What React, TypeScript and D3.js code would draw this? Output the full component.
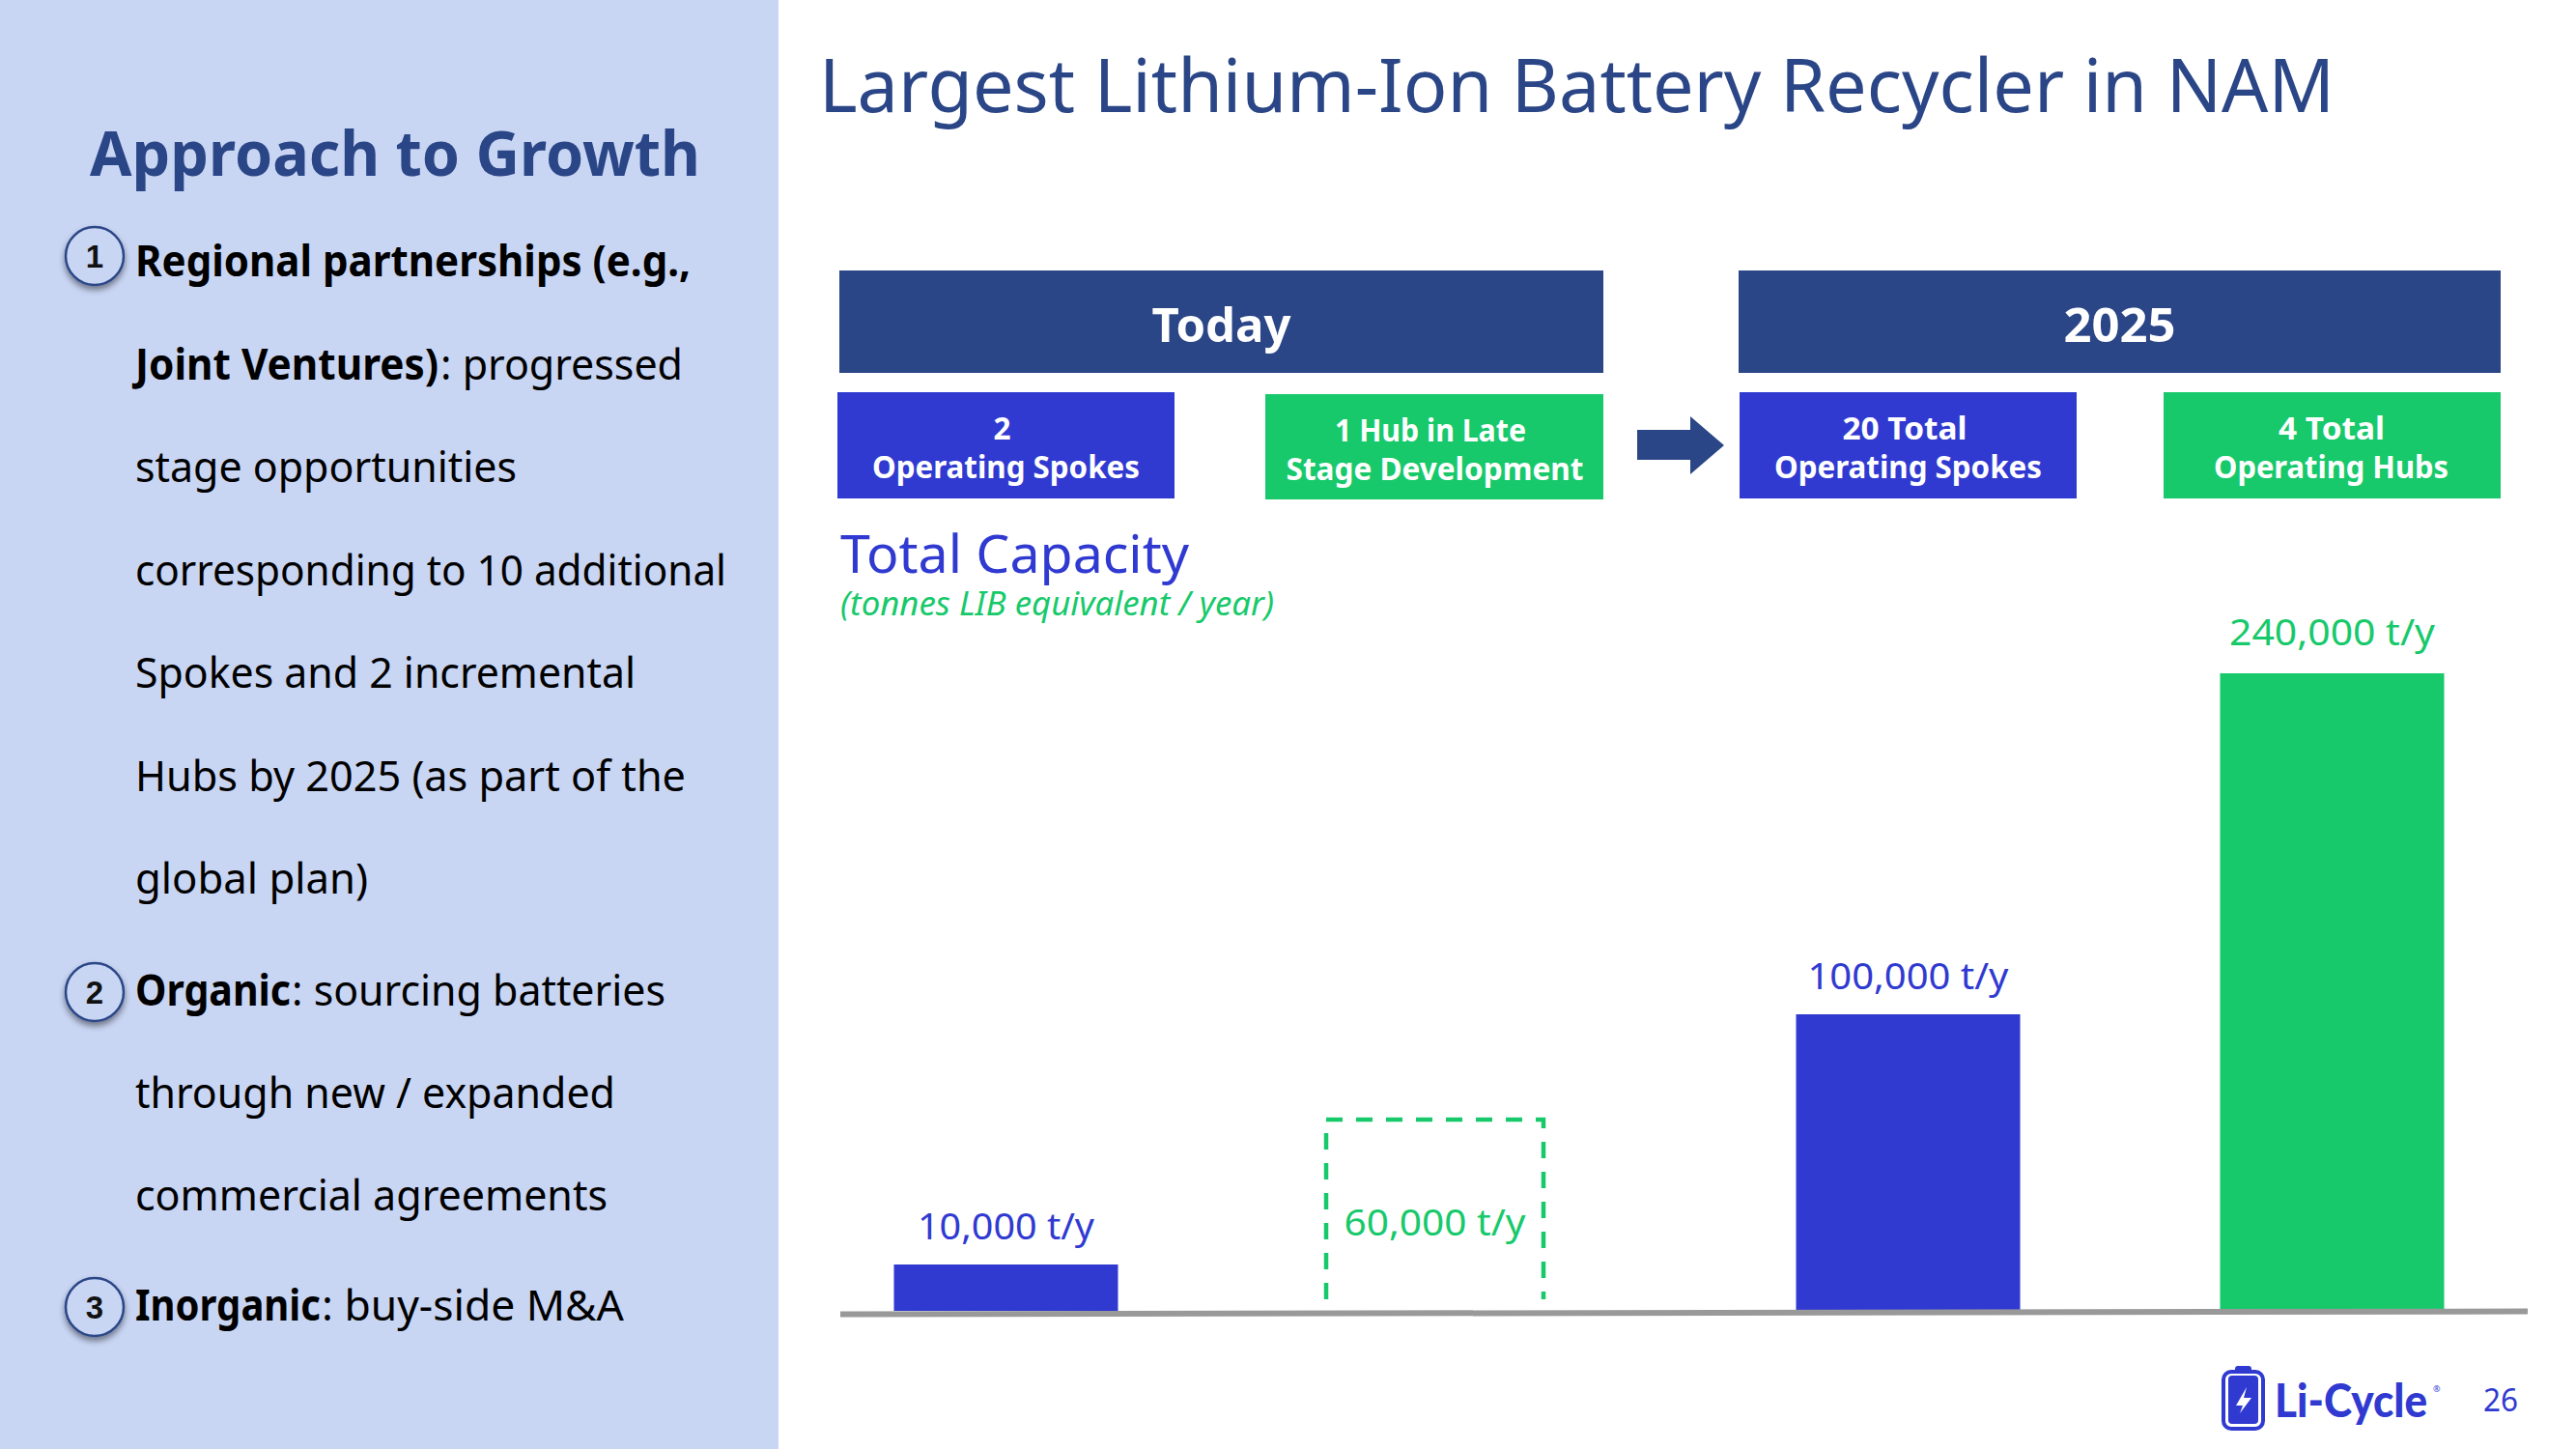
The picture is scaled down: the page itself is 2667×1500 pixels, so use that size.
import React from "react";
import * as d3 from "d3";

const W = 2667, H = 1500;
const NAVY = "#2B4687", BLUE = "#303AD1", GREEN = "#17C96B", PANEL = "#C8D5F3", GREY = "#999999";

// ---- data
const categories = ["Today spokes", "Today hub", "2025 spokes", "2025 hubs"];
const capacity = [10000, 60000, 100000, 240000];
const capacityLabels = ["10,000 t/y", "60,000 t/y", "100,000 t/y", "240,000 t/y"];
const barKinds = ["solid", "dashed", "solid", "solid"];
const barColours = [BLUE, GREEN, BLUE, GREEN];
const boxLines = [["2", "Operating Spokes"], ["1 Hub in Late", "Stage Development"], ["20 Total", "Operating Spokes"], ["4 Total", "Operating Hubs"]];
const headers = ["Today", "2025"];
const bulletNumbers = ["1", "2", "3"];

// the chart in the picture is not drawn to a linear scale: heights are read per value
const yDomain = [0, 10000, 60000, 100000, 240000];
const yRange = [1357, 1309, 1159, 1050, 697];
const y = d3.scaleLinear().domain(yDomain).range(yRange);
const xCentre = d3.scaleOrdinal<string, number>().domain(categories).range([1041.5, 1485.5, 1975.5, 2414.5]);

const F = "'Noto Sans', sans-serif";

function T(p: any) {
  const { x, y, w, size, fill = "#000", weight = 400, anchor = "start", italic, children } = p;
  return (
    <text x={x} y={y} fontFamily={F} fontSize={size} fill={fill} fontWeight={weight} textAnchor={anchor}
      fontStyle={italic ? "italic" : "normal"} textLength={w} lengthAdjust="spacingAndGlyphs">{children}</text>
  );
}

const leftLines: any[] = [
  { y: 286, b: "Regional partnerships (e.g.,", bw: 575 },
  { y: 393, b: "Joint Ventures)", bw: 314, r: ": progressed", rx: 456, rw: 251 },
  { y: 499, r: "stage opportunities", rx: 140, rw: 395 },
  { y: 606, r: "corresponding to 10 additional", rx: 140, rw: 612 },
  { y: 712, r: "Spokes and 2 incremental", rx: 140, rw: 518 },
  { y: 819, r: "Hubs by 2025 (as part of the", rx: 140, rw: 570 },
  { y: 925, r: "global plan)", rx: 140, rw: 241 },
  { y: 1041, b: "Organic", bw: 161, r: ": sourcing batteries", rx: 302, rw: 387 },
  { y: 1147, r: "through new / expanded", rx: 140, rw: 497 },
  { y: 1253, r: "commercial agreements", rx: 140, rw: 489 },
  { y: 1367, b: "Inorganic", bw: 192, r: ": buy-side M&A", rx: 333, rw: 313 },
];
const bulletY = [265, 1027, 1353];

const headerX = [[869, 1660], [1800, 2589]];
const boxX = [[867, 1216], [1310, 1660], [1801, 2150], [2240, 2589]];
const boxY = [[406, 516], [408, 517], [406, 516], [406, 516]];
const boxTextW = [[18, 277], [198, 308], [129, 277], [110, 243]];
const boxTextDx = [[-4, 0], [-4.5, 0], [-3.5, 0], [-0.5, -1]];
const labelW = [183, 188, 208, 213];
const labelY = [1283, 1279, 1024, 668];

export default function App() {
  const barW = 232;
  return (
    <svg width={W} height={H} viewBox={`0 0 ${W} ${H}`} style={{ position: "absolute", left: 0, top: 0, background: "#fff" }}>
      <defs>
        <filter id="sh" x="-30%" y="-30%" width="160%" height="160%">
          <feDropShadow dx="0" dy="4" stdDeviation="3" floodColor="#000" floodOpacity="0.45" />
        </filter>
      </defs>
      <rect x={0} y={0} width={806} height={H} fill={PANEL} />
      <T x={93} y={182} w={632} size={64} fill={NAVY} weight={700}>Approach to Growth</T>
      {leftLines.map((l, i) => (
        <g key={i}>
          {l.b && <T x={140} y={l.y} w={l.bw} size={44} weight={700}>{l.b}</T>}
          {l.r && <T x={l.rx} y={l.y} w={l.rw} size={44}>{l.r}</T>}
        </g>
      ))}
      {bulletNumbers.map((n, i) => (
        <g key={n}>
          <circle cx={98} cy={bulletY[i]} r={30} fill={PANEL} stroke={NAVY} strokeWidth={2.5} filter="url(#sh)" />
          <text x={98} y={bulletY[i] + 12} textAnchor="middle" fontFamily="'Liberation Sans', sans-serif" fontWeight={700} fontSize={33} fill="#111">{n}</text>
        </g>
      ))}

      <T x={848} y={116} w={1569} size={76} fill={NAVY}>Largest Lithium-Ion Battery Recycler in NAM</T>

      {headers.map((h, i) => (
        <g key={h}>
          <rect x={headerX[i][0]} y={280} width={headerX[i][1] - headerX[i][0]} height={106} fill={NAVY} />
          <text x={(headerX[i][0] + headerX[i][1]) / 2} y={354} textAnchor="middle" fontFamily={F} fontWeight={700} fontSize={48} fill="#fff"
            textLength={i === 0 ? 144 : 116} lengthAdjust="spacingAndGlyphs">{h}</text>
        </g>
      ))}

      {categories.map((c, i) => (
        <g key={c}>
          <rect x={boxX[i][0]} y={boxY[i][0]} width={boxX[i][1] - boxX[i][0]} height={boxY[i][1] - boxY[i][0]} fill={barColours[i]} />
          {boxLines[i].map((t, j) => (
            <text key={j} x={xCentre(c) + boxTextDx[i][j]} y={boxY[i][0] + 49 + j * 40} textAnchor="middle" fontFamily={F} fontWeight={700} fontSize={33} fill="#fff"
              textLength={boxTextW[i][j]} lengthAdjust="spacingAndGlyphs">{t}</text>
          ))}
        </g>
      ))}

      <path d="M1695,445 H1750 V431 L1785,461 L1750,491 V476 H1695 Z" fill={NAVY} />

      <T x={870} y={593} w={361} size={54} fill={BLUE}>Total Capacity</T>
      <T x={870} y={637} w={449} size={35} fill={GREEN} italic>(tonnes LIB equivalent / year)</T>

      {categories.map((c, i) => {
        const cx = xCentre(c);
        const top = y(capacity[i]);
        if (barKinds[i] === "dashed") {
          const hw = 112.5;
          const bottom = 1345;
          return (
            <path key={c} d={`M${cx - hw},${bottom} V${top} H${cx + hw} V${bottom}`} fill="none" stroke={barColours[i]} strokeWidth={4.5} strokeDasharray="17 14" />
          );
        }
        return <rect key={c} x={cx - barW / 2} y={top} width={barW} height={y(0) - top} fill={barColours[i]} />;
      })}

      <path d="M870,1360.5 L2617,1357.5" stroke={GREY} strokeWidth={6} fill="none" />

      {categories.map((c, i) => (
        <T key={c} x={xCentre(c)} y={labelY[i]} size={38} fill={barColours[i]} anchor="middle" w={labelW[i]}>{capacityLabels[i]}</T>
      ))}

      {/* logo */}
      <rect x={2302} y={1420} width={41} height={59} rx={8} fill="none" stroke={BLUE} strokeWidth={4} />
      <rect x={2314} y={1414} width={17} height={8} rx={3} fill={BLUE} />
      <rect x={2307} y={1424} width={31} height={50} rx={4} fill={BLUE} />
      <path d="M2326,1436 L2315,1455 H2322 L2319,1463 L2331,1447 H2323 Z" fill="#fff" />
      <text x={2355} y={1467} fontFamily="'Lato', sans-serif" fontWeight={900} fontSize={48} fill={BLUE} textLength={158} lengthAdjust="spacingAndGlyphs">Li-Cycle</text>
      <text x={2519} y={1441} fontFamily={F} fontSize={9} fill={BLUE}>®</text>
      <T x={2571} y={1461} w={36} size={32} fill={BLUE}>26</T>
    </svg>
  );
}
